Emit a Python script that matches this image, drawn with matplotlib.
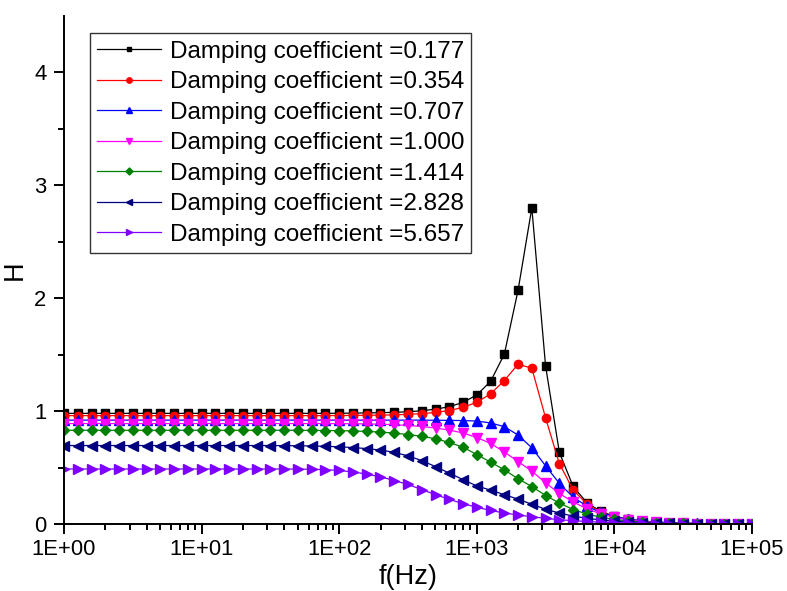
import matplotlib
matplotlib.use("Agg")
import matplotlib.pyplot as plt
from matplotlib.ticker import FixedLocator, NullFormatter

plt.rcParams['font.family'] = ['Liberation Sans', 'DejaVu Sans']

# frequency sweep (Hz), 10 points per decade
freq = [1, 1.259, 1.585, 1.995, 2.512, 3.162, 3.981, 5.012, 6.31, 7.943,
        10, 12.59, 15.85, 19.95, 25.12, 31.62, 39.81, 50.12, 63.1, 79.43,
        100, 125.9, 158.5, 199.5, 251.2, 316.2, 398.1, 501.2, 631, 794.3,
        1000, 1259, 1585, 1995, 2512, 3162, 3981, 5012, 6310, 7943,
        10000, 12589, 15849, 19953, 25119, 31623, 39811, 50119, 63096, 79433,
        100000]

damping = ['0.177', '0.354', '0.707', '1.000', '1.414', '2.828', '5.657']

h_0177 = [0.98, 0.98, 0.98, 0.98, 0.98, 0.98, 0.98, 0.98, 0.98, 0.98,
          0.98, 0.98, 0.98, 0.98, 0.98, 0.98, 0.98, 0.98, 0.98, 0.98,
          0.981, 0.982, 0.984, 0.986, 0.989, 0.994, 1.003, 1.017, 1.039, 1.077,
          1.143, 1.263, 1.503, 2.07, 2.80, 1.40, 0.635, 0.333, 0.189, 0.112,
          0.068, 0.042, 0.026, 0.016, 0.010, 0.0064, 0.004, 0.0025, 0.0016, 0.001,
          0.0006]
h_0354 = [0.96, 0.96, 0.96, 0.96, 0.96, 0.96, 0.96, 0.96, 0.96, 0.96,
          0.96, 0.96, 0.96, 0.96, 0.96, 0.96, 0.96, 0.96, 0.96, 0.96,
          0.961, 0.962, 0.963, 0.964, 0.967, 0.971, 0.978, 0.988, 1.005, 1.033,
          1.078, 1.152, 1.271, 1.415, 1.38, 0.94, 0.535, 0.302, 0.177, 0.107,
          0.066, 0.041, 0.025, 0.016, 0.0099, 0.0063, 0.0039, 0.0025, 0.0016, 0.001,
          0.0006]
h_0707 = [0.92, 0.92, 0.92, 0.92, 0.92, 0.92, 0.92, 0.92, 0.92, 0.92,
          0.92, 0.92, 0.92, 0.92, 0.92, 0.92, 0.92, 0.92, 0.92, 0.92,
          0.92, 0.92, 0.92, 0.92, 0.92, 0.92, 0.92, 0.919, 0.918, 0.916,
          0.912, 0.895, 0.862, 0.788, 0.675, 0.515, 0.36, 0.238, 0.158, 0.102,
          0.066, 0.042, 0.027, 0.017, 0.011, 0.007, 0.0044, 0.0028, 0.0018, 0.0011,
          0.0007]
h_1000 = [0.89, 0.89, 0.89, 0.89, 0.89, 0.89, 0.89, 0.89, 0.89, 0.89,
          0.89, 0.89, 0.89, 0.89, 0.89, 0.89, 0.89, 0.89, 0.89, 0.89,
          0.889, 0.888, 0.886, 0.884, 0.879, 0.873, 0.864, 0.850, 0.832, 0.806,
          0.766, 0.714, 0.638, 0.553, 0.468, 0.365, 0.27, 0.195, 0.135, 0.09,
          0.058, 0.037, 0.024, 0.015, 0.0095, 0.006, 0.0038, 0.0024, 0.0015, 0.001,
          0.0006]
h_1414 = [0.83, 0.83, 0.83, 0.83, 0.83, 0.83, 0.83, 0.83, 0.83, 0.83,
          0.83, 0.83, 0.83, 0.83, 0.83, 0.83, 0.83, 0.83, 0.829, 0.828,
          0.827, 0.824, 0.82, 0.814, 0.805, 0.792, 0.777, 0.755, 0.722, 0.68,
          0.615, 0.548, 0.48, 0.40, 0.332, 0.252, 0.186, 0.128, 0.088, 0.06,
          0.04, 0.027, 0.018, 0.012, 0.008, 0.005, 0.0033, 0.0021, 0.0013, 0.0008,
          0.0005]
h_2828 = [0.695, 0.695, 0.695, 0.695, 0.695, 0.695, 0.695, 0.695, 0.695, 0.695,
          0.695, 0.695, 0.695, 0.695, 0.695, 0.695, 0.694, 0.693, 0.691, 0.688,
          0.684, 0.677, 0.668, 0.655, 0.635, 0.603, 0.562, 0.508, 0.451, 0.393,
          0.337, 0.30, 0.26, 0.22, 0.175, 0.13, 0.097, 0.07, 0.05, 0.036,
          0.025, 0.018, 0.012, 0.008, 0.0055, 0.0037, 0.0025, 0.0016, 0.001, 0.0007,
          0.0004]
h_5657 = [0.487, 0.487, 0.487, 0.487, 0.487, 0.487, 0.487, 0.487, 0.487, 0.487,
          0.487, 0.487, 0.487, 0.487, 0.487, 0.487, 0.487, 0.486, 0.485, 0.481,
          0.474, 0.461, 0.442, 0.418, 0.385, 0.35, 0.305, 0.26, 0.218, 0.18,
          0.148, 0.12, 0.097, 0.08, 0.064, 0.05, 0.038, 0.029, 0.022, 0.016,
          0.012, 0.009, 0.006, 0.004, 0.003, 0.002, 0.0013, 0.0009, 0.0006, 0.0004,
          0.0003]

series = [h_0177, h_0354, h_0707, h_1000, h_1414, h_2828, h_5657]
colors = ['#000000', '#ff0000', '#0000ff', '#ff00ff', '#008000', '#000080', '#8000ff']
markers = ['s', 'o', '^', 'v', 'D', '<', '>']
sizes = [5.5, 6, 7, 7, 5.5, 7, 7]

fig = plt.figure(figsize=(7.87, 5.91), dpi=100)
ax = fig.add_axes([0.0813, 0.1134, 0.8742, 0.8595])

for h, d, c, m, s in zip(series, damping, colors, markers, sizes):
    ax.plot(freq, h, color=c, marker=m, markersize=s, linewidth=0.9,
            label='Damping coefficient =' + d)

ax.set_xscale('log')
ax.set_xlim(1, 1e5)
ax.set_ylim(0, 4.5)

ax.set_xticks([1, 10, 100, 1000, 10000, 100000])
ax.set_xticklabels(['1E+00', '1E+01', '1E+02', '1E+03', '1E+04', '1E+05'])
ax.set_yticks([0, 1, 2, 3, 4])
ax.yaxis.set_minor_locator(FixedLocator([0.5, 1.5, 2.5, 3.5]))
ax.xaxis.set_minor_formatter(NullFormatter())

ax.spines['top'].set_visible(False)
ax.spines['right'].set_visible(False)
ax.spines['left'].set_linewidth(1.4)
ax.spines['bottom'].set_linewidth(1.4)
ax.tick_params(which='major', direction='out', length=7, width=1.4, labelsize=15.8)
ax.tick_params(axis='y', which='major', pad=5.5)
ax.tick_params(which='minor', direction='out', length=4, width=1.4)

ax.set_xlabel('f(Hz)', fontsize=19.5, labelpad=3)
ax.set_ylabel('H', fontsize=19.5)
ax.yaxis.set_label_coords(-0.052, 0.5)

leg = ax.legend(loc='upper left', bbox_to_anchor=(0.038, 0.966), borderaxespad=0,
                fontsize=17.5, frameon=True, fancybox=False, edgecolor='black',
                handlelength=2.6, handletextpad=0.37, labelspacing=0.35,
                borderpad=0.3, markerscale=0.65)
leg.get_frame().set_linewidth(1.0)

fig.savefig('out.png', dpi=100)
